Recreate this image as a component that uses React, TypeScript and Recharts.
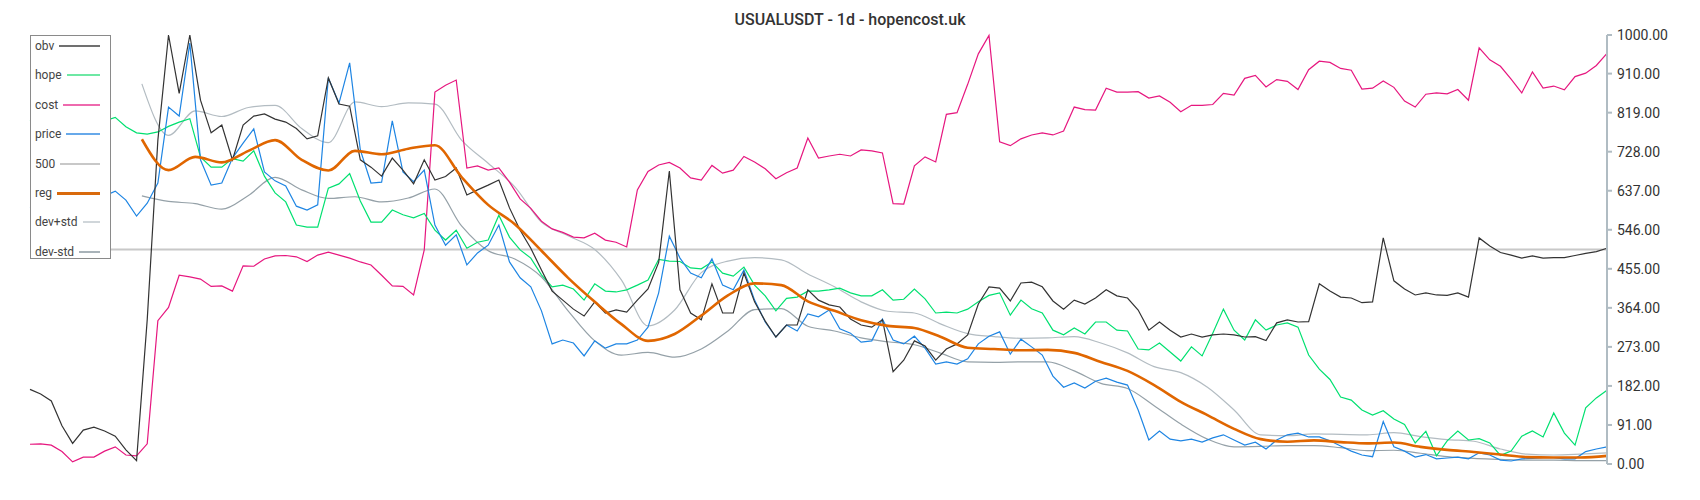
import React from 'react';
import { LineChart, Line, XAxis, YAxis, ReferenceLine } from 'recharts';

// right axis ticks
const yTicks = [0, 91, 182, 273, 364, 455, 546, 637, 728, 819, 910, 1000];

// daily series, sampled every 2nd day starting at day 0
const obv = [
  174, 163, 147, 89, 48, 79, 86, 77, 65, 33,
  8, 336, 755, 1000, 864, 1000, 848, 772, 790, 709,
  790, 811, 816, 804, 797, 782, 758, 765, 900, 839,
  834, 709, 692, 671, 713, 685, 653, 709, 662, 670,
  690, 627, 639, 650, 662, 597, 545, 503, 452, 403,
  382, 361, 345, 378, 352, 359, 354, 382, 408, 470,
  683, 406, 352, 336, 420, 352, 352, 445, 378, 333,
  296, 324, 324, 406, 382, 371, 366, 338, 324, 319,
  336, 215, 242, 287, 275, 242, 268, 280, 301, 373,
  413, 410, 380, 422, 424, 413, 380, 361, 382, 373,
  387, 406, 392, 387, 359, 312, 331, 312, 296, 303,
  296, 301, 303, 301, 296, 297, 288, 329, 336, 331,
  332, 420, 403, 389, 387, 376, 378, 527, 427, 408,
  394, 399, 394, 393, 399, 389, 527, 508, 493, 487,
  480, 485, 480, 481, 481, 486, 491, 495, 503,
];

const hope = [
  800, 810, 805, 795, 790, 800, 805, 800, 808, 786,
  772, 769, 774, 787, 797, 805, 716, 692, 692, 712,
  706, 730, 671, 632, 611, 557, 552, 552, 643, 653,
  677, 613, 564, 564, 592, 581, 574, 584, 545, 522,
  545, 503, 517, 522, 580, 529, 499, 480, 441, 413,
  417, 408, 382, 420, 403, 401, 406, 417, 429, 477,
  473, 472, 457, 455, 471, 445, 438, 459, 417, 392,
  357, 386, 389, 403, 403, 406, 410, 399, 392, 392,
  406, 382, 384, 408, 385, 352, 354, 352, 361, 378,
  393, 399, 347, 382, 362, 352, 312, 301, 317, 303,
  331, 331, 312, 310, 268, 266, 282, 261, 240, 273,
  252, 305, 361, 312, 289, 336, 312, 324, 329, 319,
  254, 221, 197, 156, 149, 126, 114, 124, 105, 92,
  49, 76, 19, 54, 77, 56, 59, 49, 20, 30,
  65, 77, 63, 119, 72, 44, 131, 154, 172,
];

const cost = [
  46, 47, 44, 29, 5, 16, 16, 30, 40, 21,
  19, 47, 334, 365, 440, 436, 431, 414, 415, 403,
  462, 461, 478, 485, 486, 483, 472, 487, 494, 487,
  480, 471, 464, 440, 415, 414, 394, 499, 867, 883,
  895, 690, 695, 685, 690, 657, 618, 596, 566, 548,
  540, 529, 527, 538, 522, 517, 506, 639, 682, 697,
  703, 690, 667, 662, 696, 678, 685, 717, 704, 688,
  665, 679, 690, 760, 713, 718, 722, 718, 732, 730,
  725, 607, 606, 695, 716, 704, 815, 819, 885, 956,
  999, 751, 742, 758, 767, 772, 767, 776, 832, 826,
  825, 876, 867, 867, 868, 853, 858, 843, 821, 836,
  836, 838, 864, 860, 899, 906, 879, 896, 892, 873,
  919, 939, 936, 922, 918, 874, 876, 893, 878, 846,
  832, 862, 865, 863, 873, 848, 970, 942, 927, 897,
  865, 914, 876, 881, 872, 903, 911, 929, 957,
];

const price = [
  600, 590, 610, 640, 620, 600, 615, 625, 636, 615,
  578, 608, 655, 832, 811, 981, 709, 650, 655, 713,
  748, 781, 681, 660, 648, 601, 592, 604, 900, 841,
  935, 732, 655, 657, 800, 681, 658, 685, 557, 510,
  534, 464, 492, 510, 557, 471, 434, 413, 357, 280,
  289, 282, 252, 287, 270, 280, 280, 289, 319, 399,
  531, 480, 445, 434, 478, 417, 406, 452, 382, 331,
  296, 324, 310, 350, 343, 359, 315, 305, 284, 287,
  338, 289, 280, 298, 270, 233, 238, 233, 245, 280,
  298, 308, 256, 291, 273, 254, 205, 179, 189, 177,
  193, 200, 191, 184, 126, 56, 77, 58, 54, 58,
  51, 61, 68, 56, 44, 51, 35, 56, 68, 72,
  63, 63, 54, 42, 30, 21, 17, 99, 40, 30,
  16, 22, 12, 14, 16, 12, 26, 21, 9, 7,
  12, 13, 15, 15, 12, 12, 29, 35, 40,
];

// smoothed series, every 5th day starting at day 21
const reg = [
  757, 685, 716, 703, 730, 755, 709, 684, 730, 722,
  735, 743, 669, 604, 559, 497, 434, 378, 326, 287,
  303, 346, 393, 421, 417, 379, 357, 335, 322, 317,
  296, 271, 268, 265, 266, 259, 238, 217, 184, 145,
  114, 82, 58, 52, 55, 51, 48, 50, 40, 33,
  28, 22, 16, 15, 15, 19,
];

const devPlus = [
  886, 766, 823, 810, 831, 836, 782, 749, 844, 833,
  842, 839, 755, 701, 646, 564, 532, 500, 429, 322,
  359, 446, 473, 481, 476, 443, 413, 378, 356, 352,
  326, 304, 297, 293, 294, 297, 282, 259, 227, 213,
  179, 126, 68, 66, 70, 69, 68, 73, 64, 57,
  53, 35, 23, 21, 23, 26,
];

const devMinus = [
  625, 612, 607, 594, 626, 668, 639, 619, 623, 611,
  620, 641, 555, 497, 478, 436, 357, 287, 254, 260,
  249, 268, 310, 360, 362, 321, 310, 294, 285, 278,
  258, 238, 237, 238, 238, 217, 188, 176, 136, 93,
  58, 40, 41, 43, 43, 38, 31, 32, 25, 17,
  13, 11, 9, 9, 8, 8,
];

const toPoints = (vals: number[], start: number, step: number) =>
  vals.map((v, i) => ({ day: start + i * step, v }));

const series = [
  { name: 'dev+std', data: toPoints(devPlus, 21, 5), color: '#b3bcc2', width: 1.2, curve: 'monotone' },
  { name: 'dev-std', data: toPoints(devMinus, 21, 5), color: '#95a1a8', width: 1.2, curve: 'monotone' },
  { name: 'cost', data: toPoints(cost, 0, 2), color: '#e6177f', width: 1.2, curve: 'linear' },
  { name: 'hope', data: toPoints(hope, 0, 2), color: '#00e070', width: 1.2, curve: 'linear' },
  { name: 'price', data: toPoints(price, 0, 2), color: '#1e85e3', width: 1.2, curve: 'linear' },
  { name: 'obv', data: toPoints(obv, 0, 2), color: '#333333', width: 1.2, curve: 'linear' },
  { name: 'reg', data: toPoints(reg, 21, 5), color: '#e06600', width: 2.6, curve: 'monotone' },
];

const legendItems = [
  { label: 'obv', color: '#707070', width: 2 },
  { label: 'hope', color: '#6ee8a4', width: 2 },
  { label: 'cost', color: '#ee6aae', width: 2 },
  { label: 'price', color: '#67a9ea', width: 2 },
  { label: '500', color: '#c8c8c8', width: 2 },
  { label: 'reg', color: '#d96a0c', width: 3 },
  { label: 'dev+std', color: '#d0d6da', width: 2 },
  { label: 'dev-std', color: '#a9b3b9', width: 2 },
];

const font = 'Roboto, "Noto Sans", sans-serif';

export default function App() {
  return (
    <div style={{ position: 'absolute', left: 0, top: 0, width: 1700, height: 500, background: '#fff', fontFamily: font }}>
      <LineChart width={1700} height={500} margin={{ top: 35, right: 33, bottom: 36, left: 30 }}>
        <XAxis type="number" dataKey="day" domain={[0, 296]} hide allowDuplicatedCategory={false} />
        <YAxis
          orientation="right"
          width={60}
          domain={[0, 1000]}
          ticks={yTicks}
          interval={0}
          tickFormatter={(v: number) => v.toFixed(2)}
          tickSize={5}
          tickMargin={5}
          axisLine={{ stroke: '#b0bcc3', strokeWidth: 2 }}
          tickLine={{ stroke: '#b0bcc3', strokeWidth: 2 }}
          tick={{ fill: '#333', fontSize: 14, fontFamily: font }}
        />
        <ReferenceLine y={500} stroke="#c8c8c8" strokeWidth={2} />
        {series.map((s) => (
          <Line
            key={s.name}
            name={s.name}
            data={s.data}
            dataKey="v"
            type={s.curve as any}
            stroke={s.color}
            strokeWidth={s.width}
            dot={false}
            activeDot={false}
            isAnimationActive={false}
          />
        ))}
      </LineChart>

      <div
        style={{
          position: 'absolute',
          left: 0,
          width: 1700,
          top: 10,
          textAlign: 'center',
          fontSize: 16,
          fontWeight: 500,
          color: '#333',
        }}
      >
        USUALUSDT - 1d - hopencost.uk
      </div>

      <div
        style={{
          position: 'absolute',
          left: 30,
          top: 35,
          width: 81,
          height: 224,
          boxSizing: 'border-box',
          border: '1.5px solid #8a8a8a',
          background: '#fff',
          zIndex: 2,
        }}
      >
        {legendItems.map((it, i) => (
          <div
            key={it.label}
            style={{
              position: 'absolute',
              left: 4,
              right: 10,
              top: 10 + i * 29.4 - 8,
              height: 16,
              display: 'flex',
              alignItems: 'center',
              gap: 5,
              fontSize: 12,
              color: '#444',
            }}
          >
            <span>{it.label}</span>
            <div style={{ flex: 1, height: it.width, background: it.color }} />
          </div>
        ))}
      </div>
    </div>
  );
}
